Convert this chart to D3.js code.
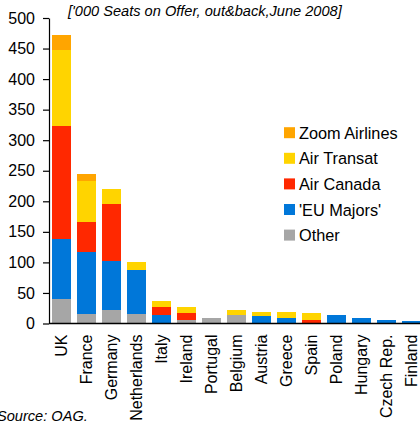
<!DOCTYPE html>
<html><head><meta charset="utf-8">
<script src="https://cdn.jsdelivr.net/npm/d3@7"></script>
<style>
html,body{margin:0;padding:0;background:#fff;}
svg{display:block;font-family:"Liberation Sans",Arial,sans-serif;}
</style></head>
<body>
<svg id="chart" width="420" height="426"></svg>
<script>
const categories = ["UK","France","Germany","Netherlands","Italy","Ireland","Portugal","Belgium","Austria","Greece","Spain","Poland","Hungary","Czech Rep.","Finland"];
const other        = [40, 15, 22, 15,  0,  6, 9, 14,  0,  0,  0,  0, 0, 0, 0];
const euMajors     = [98,102, 80, 72, 14,  0, 0,  0, 12,  9,  0, 14, 9, 6, 4];
const airCanada    = [185,49, 93,  0, 13, 11, 0,  0,  0,  0,  6,  0, 0, 0, 0];
const airTransat   = [125,68, 25, 13, 10, 10, 0,  8,  7, 10, 11,  0, 0, 0, 0];
const zoomAirlines = [24, 10,  0,  0,  0,  0, 0,  0,  0,  0,  0,  0, 0, 0, 0];
const seriesNames  = ["Other","'EU Majors'","Air Canada","Air Transat","Zoom Airlines"];
const seriesValues = [other, euMajors, airCanada, airTransat, zoomAirlines];
const colors       = ["#A6A6A6","#0077D9","#FF2800","#FFD400","#FFA500"];
const yTicks       = [0,50,100,150,200,250,300,350,400,450,500];
const title  = "['000 Seats on Offer, out&back,June 2008]";
const source = "Source: OAG.";

const svg = d3.select("#chart");
const x = d3.scaleBand().domain(categories).range([49, 424]).paddingInner(0.25).paddingOuter(0.125);
const y = d3.scaleLinear().domain([0, 500]).range([323.5, 18]);

const rows = categories.map((c, i) => {
  const r = {cat: c};
  seriesNames.forEach((s, j) => r[s] = seriesValues[j][i]);
  return r;
});
const stacked = d3.stack().keys(seriesNames)(rows);

svg.append("g").selectAll("g").data(stacked).join("g")
  .attr("fill", (d, i) => colors[i])
  .selectAll("rect").data(d => d).join("rect")
  .attr("x", d => x(d.data.cat))
  .attr("width", x.bandwidth())
  .attr("y", d => y(d[1]))
  .attr("height", d => y(d[0]) - y(d[1]))
  .attr("shape-rendering", "crispEdges");

// y axis
const ya = svg.append("g").attr("transform", "translate(49,0)")
  .call(d3.axisLeft(y).tickValues(yTicks).tickSize(6).tickPadding(8).tickSizeOuter(0));
ya.select(".domain").attr("stroke", "#000").attr("stroke-width", 1.2);
ya.selectAll(".tick line").attr("stroke", "#000").attr("stroke-width", 1.2);
ya.selectAll(".tick text").attr("font-size", 16).attr("font-family", "Liberation Sans, Arial, sans-serif").attr("fill", "#000");

// x axis
const xa = svg.append("g").attr("transform", "translate(0,323.5)")
  .call(d3.axisBottom(x).tickSize(0).tickSizeOuter(0));
xa.select(".domain").attr("d", "M49,0H420").attr("stroke", "#000").attr("stroke-width", 1.5);
xa.selectAll(".tick text")
  .attr("font-size", 16).attr("font-family", "Liberation Sans, Arial, sans-serif").attr("fill", "#000")
  .attr("text-anchor", "end")
  .attr("transform", "rotate(-90)")
  .attr("x", -11).attr("y", 0).attr("dy", "0.36em");

// title
svg.append("text").attr("x", 68).attr("y", 15.5)
  .attr("font-size", 14.6).attr("font-style", "italic").attr("fill", "#000").text(title);
// source
svg.append("text").attr("x", -3).attr("y", 421)
  .attr("font-size", 14.6).attr("font-style", "italic").attr("fill", "#000").text(source);

// legend
const legendOrder = [4,3,2,1,0];
const lg = svg.append("g");
legendOrder.forEach((si, k) => {
  const yy = 127.2 + k * 25.6;
  lg.append("rect").attr("x", 284).attr("y", yy).attr("width", 11).attr("height", 11).attr("fill", colors[si]);
  lg.append("text").attr("x", 299).attr("y", yy + 11.5).attr("font-size", 16.3).attr("fill", "#000").text(seriesNames[si]);
});
</script>
</body></html>
